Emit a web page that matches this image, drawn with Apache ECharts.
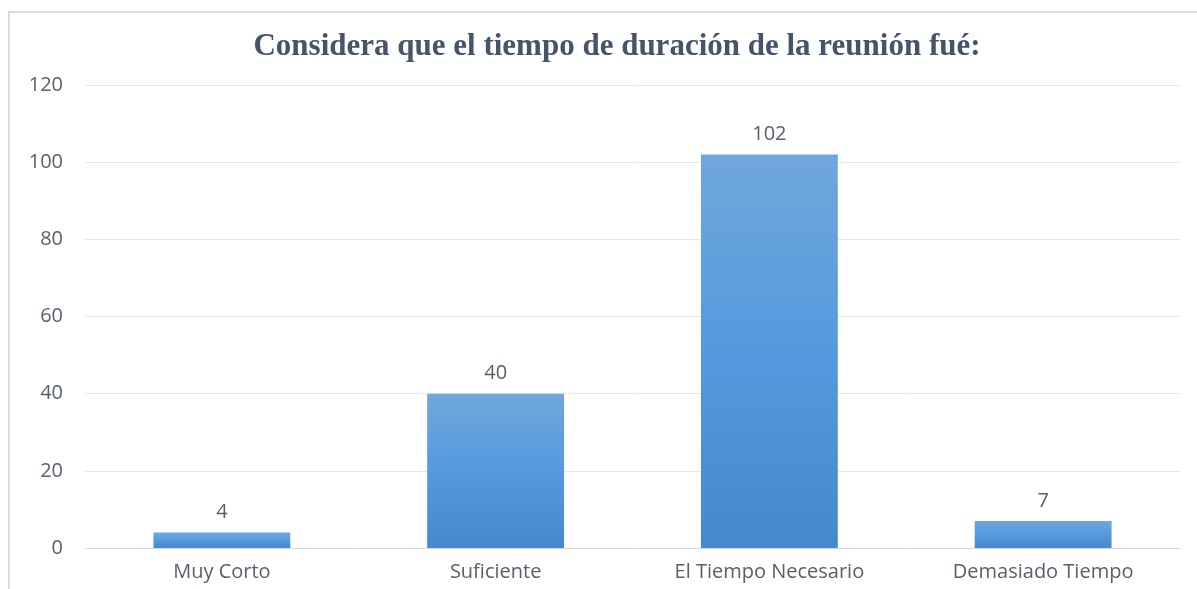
<!DOCTYPE html>
<html><head><meta charset="utf-8">
<script src="https://cdn.jsdelivr.net/npm/echarts@6/dist/echarts.min.js"></script>
<style>html,body{margin:0;padding:0;background:#fff}#c{width:1197px;height:589px}</style>
</head><body><div id="c"></div>
<script>
const titleText = 'Considera que el tiempo de duración de la reunión fué:';
const categories = ['Muy Corto', 'Suficiente', 'El Tiempo Necesario', 'Demasiado Tiempo'];
const values = [4, 40, 102, 7];
const yTicks = [0, 20, 40, 60, 80, 100, 120];

const chart = echarts.init(document.getElementById('c'));
chart.setOption({
  animation: false,
  graphic: [{
    type: 'rect', shape: {x: 9, y: 12, width: 1200, height: 600},
    style: {fill: 'none', stroke: '#d9dde3', lineWidth: 2}, silent: true, z: -1
  }],
  title: {
    text: titleText, left: 612, textAlign: 'center', top: 26,
    textStyle: {fontFamily: 'Liberation Serif', fontWeight: 'bold', fontSize: 31, color: '#44546a'}
  },
  grid: {left: 85, right: 17, top: 85, bottom: 41, containLabel: false},
  xAxis: {
    type: 'category', data: categories,
    axisLine: {lineStyle: {color: '#d9d9d9'}}, axisTick: {show: false},
    axisLabel: {color: '#58606d', fontSize: 20, fontFamily: 'Open Sans', margin: 14}
  },
  yAxis: {
    type: 'value', min: yTicks[0], max: yTicks[yTicks.length - 1], interval: 20,
    axisLine: {show: false}, axisTick: {show: false},
    splitLine: {lineStyle: {color: '#e8e8e8'}},
    axisLabel: {color: '#58606d', fontSize: 20, fontFamily: 'Open Sans', margin: 22, align: 'right'}
  },
  series: [{
    type: 'bar', data: values, barWidth: '50%',
    itemStyle: {color: new echarts.graphic.LinearGradient(0, 0, 0, 1, [
      {offset: 0, color: '#70a7dc'}, {offset: 0.5, color: '#559ade'}, {offset: 1, color: '#4489cb'}])},
    label: {show: true, position: 'top', distance: 10, color: '#58606d', fontSize: 20, fontFamily: 'Open Sans'}
  }]
});
</script></body></html>
